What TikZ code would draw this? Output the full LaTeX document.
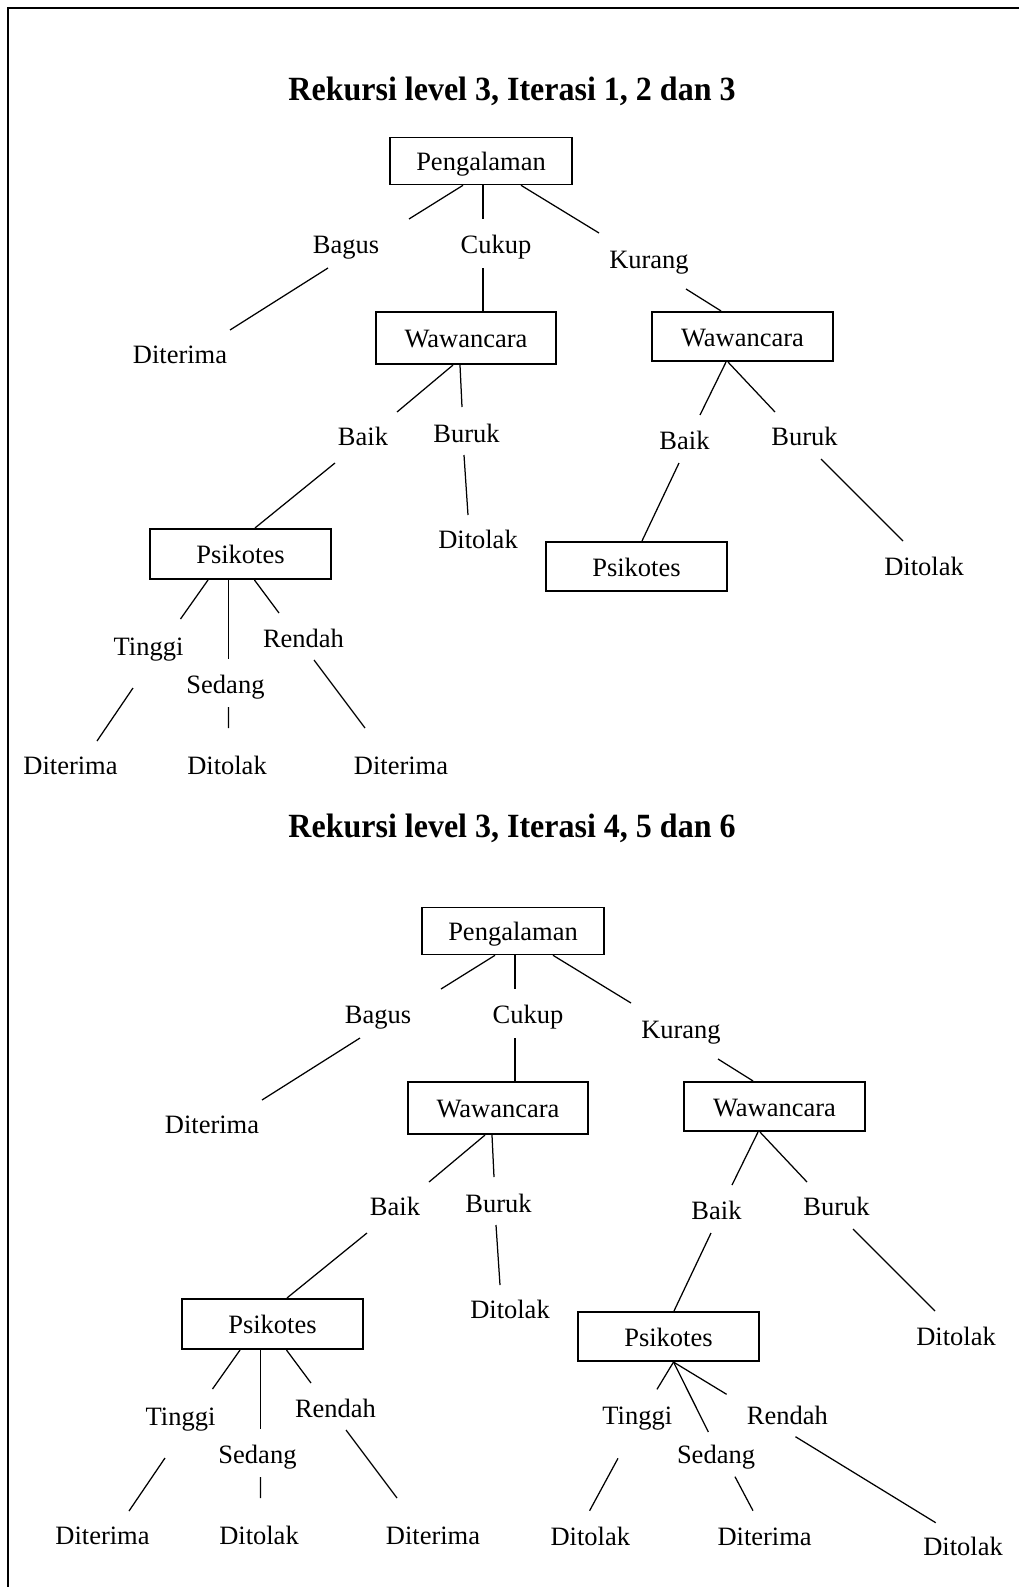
\documentclass[tikz,border=0pt]{standalone}
\usepackage{fontspec}
\setmainfont{Liberation Serif}
\tikzset{
  lbl/.style={inner sep=0pt, anchor=base, font=\fontsize{26.5}{30}\selectfont},
  box/.style={draw, line width=1.6pt, inner sep=0pt, text height=19pt, text depth=0pt, font=\fontsize{26.5}{30}\selectfont},
  conn/.style={line width=1.25pt},
  ttl/.style={inner sep=0pt, anchor=base, font=\fontsize{32}{36}\selectfont\bfseries},
}
\newcommand\mytree[1]{%
  \node[box, minimum width=182.5pt, minimum height=47pt] (#1P) at (481,161) {Pengalaman};
  \node[lbl] (#1Bagus) at (346,253) {Bagus};
  \node[lbl] (#1Cukup) at (496,253) {Cukup};
  \node[lbl] (#1Kurang) at (649,268) {Kurang};
  \node[lbl] (#1DtA) at (180,363) {Diterima};
  \node[box, minimum width=180.5pt, minimum height=52.5pt] (#1WA) at (466,338) {Wawancara};
  \node[box, minimum width=181.5pt, minimum height=49.5pt] (#1WB) at (742.5,336.5) {Wawancara};
  \node[lbl] (#1BaikA) at (363,445) {Baik};
  \node[lbl] (#1BurukA) at (466.5,442) {Buruk};
  \node[lbl] (#1BaikB) at (684.5,449) {Baik};
  \node[lbl] (#1BurukB) at (804.5,445) {Buruk};
  \node[lbl] (#1DlA) at (478,548) {Ditolak};
  \node[lbl] (#1DlB) at (924,575) {Ditolak};
  \node[box, minimum width=181.5pt, minimum height=50.5pt] (#1PsA) at (240.5,554) {Psikotes};
  \node[box, minimum width=181.5pt, minimum height=49.5pt] (#1PsB) at (636.5,566.5) {Psikotes};
  \node[lbl] (#1Ti) at (148.5,655) {Tinggi};
  \node[lbl] (#1Se) at (225.5,693) {Sedang};
  \node[lbl] (#1Re) at (303.5,647) {Rendah};
  \node[lbl] (#1DtB) at (70.5,774) {Diterima};
  \node[lbl] (#1DlC) at (227,774) {Ditolak};
  \node[lbl] (#1DtC) at (401,774) {Diterima};
  \draw[conn] ([shift={(-18,0)}]#1P.south) -- ([shift={(63,-34)}]#1Bagus.base);
  \draw[conn] ([shift={(2,0)}]#1P.south) -- ([shift={(-13,-34)}]#1Cukup.base);
  \draw[conn] ([shift={(40,0)}]#1P.south) -- ([shift={(-50,-35)}]#1Kurang.base);
  \draw[conn] ([shift={(-18,15)}]#1Bagus.base) -- ([shift={(50,-33)}]#1DtA.base);
  \draw[conn] ([shift={(-13,15)}]#1Cukup.base) -- ([shift={(17,0)}]#1WA.north);
  \draw[conn] ([shift={(37,21)}]#1Kurang.base) -- ([shift={(-21.5,0)}]#1WB.north);
  \draw[conn] ([shift={(-13,0)}]#1WA.south) -- ([shift={(34,-33)}]#1BaikA.base);
  \draw[conn] ([shift={(-6,0)}]#1WA.south) -- ([shift={(-4.5,-35)}]#1BurukA.base);
  \draw[conn] ([shift={(-16.5,0)}]#1WB.south) -- ([shift={(15.5,-34)}]#1BaikB.base);
  \draw[conn] ([shift={(-14.5,0)}]#1WB.south) -- ([shift={(-29.5,-33)}]#1BurukB.base);
  \draw[conn] ([shift={(-28,18)}]#1BaikA.base) -- ([shift={(14.5,0)}]#1PsA.north);
  \draw[conn] ([shift={(-2.5,13)}]#1BurukA.base) -- ([shift={(-10,-33)}]#1DlA.base);
  \draw[conn] ([shift={(-5.5,14)}]#1BaikB.base) -- ([shift={(5.5,0)}]#1PsB.north);
  \draw[conn] ([shift={(16.5,14)}]#1BurukB.base) -- ([shift={(-21,-34)}]#1DlB.base);
  \draw[conn] ([shift={(-32.5,0)}]#1PsA.south) -- ([shift={(32,-36)}]#1Ti.base);
  \draw[conn] ([shift={(-12,0)}]#1PsA.south) -- ([shift={(3,-34)}]#1Se.base);
  \draw[conn] ([shift={(14,0)}]#1PsA.south) -- ([shift={(-24.5,-34)}]#1Re.base);
  \draw[conn] ([shift={(-15.5,33)}]#1Ti.base) -- ([shift={(26.5,-33)}]#1DtB.base);
  \draw[conn] ([shift={(3,14)}]#1Se.base) -- ([shift={(1.6,-46)}]#1DlC.base);
  \draw[conn] ([shift={(10.5,13)}]#1Re.base) -- ([shift={(-36,-46)}]#1DtC.base);
}
\begin{document}
\begin{tikzpicture}[x=1pt,y=-1pt]
  \useasboundingbox (0,0) rectangle (1018,1587);
  \draw[line width=2.3pt, line join=miter] (8,1590) -- (8,8) -- (1020,8);
  \node[ttl] (t1) at (512,100.5) {\scalebox{1}[1.06]{Rekursi level 3, Iterasi 1, 2 dan 3}};
  \node[ttl] (t2) at (512,837) {\scalebox{1}[1.06]{Rekursi level 3, Iterasi 4, 5 dan 6}};
  \mytree{a}
  \begin{scope}[shift={(32,770)}]
    \mytree{b}
  \end{scope}
  \node[lbl] (bTi2) at (637.3,1424) {Tinggi};
  \node[lbl] (bSe2) at (716,1463) {Sedang};
  \node[lbl] (bRe2) at (787.4,1424) {Rendah};
  \node[lbl] (bDlX) at (590.3,1545) {Ditolak};
  \node[lbl] (bDtY) at (764.6,1545) {Diterima};
  \node[lbl] (bDlZ) at (963,1555) {Ditolak};
  \draw[conn] ([shift={(5,0)}]bPsB.south) -- ([shift={(19.7,-34.7)}]bTi2.base);
  \draw[conn] ([shift={(5,0)}]bPsB.south) -- ([shift={(-7.6,-31)}]bSe2.base);
  \draw[conn] ([shift={(5,0)}]bPsB.south) -- ([shift={(-60.8,-29.7)}]bRe2.base);
  \draw[conn] ([shift={(-19.3,34.3)}]bTi2.base) -- ([shift={(-0.7,-34.3)}]bDlX.base);
  \draw[conn] ([shift={(19,13.7)}]bSe2.base) -- ([shift={(-11.6,-34.3)}]bDtY.base);
  \draw[conn] ([shift={(8.1,12.7)}]bRe2.base) -- ([shift={(-27.3,-32.3)}]bDlZ.base);
\end{tikzpicture}
\end{document}
